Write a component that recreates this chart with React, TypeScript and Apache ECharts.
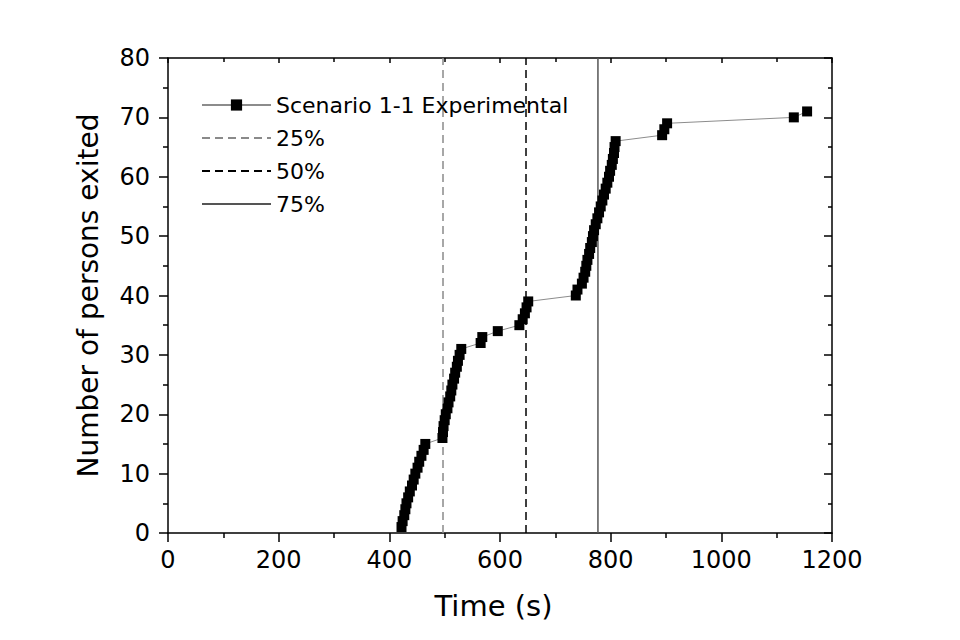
import React, { useEffect, useRef } from "react";
import * as echarts from "echarts";

const exitTimes = [
  422, 424, 427, 429, 431, 434, 437, 441, 444, 447, 451, 454, 458, 462, 465,
  496, 497, 498, 500, 502, 505, 507, 510, 512, 514, 517, 519, 522, 524, 527, 530,
  565, 568, 596, 635, 641, 645, 648, 651,
  737, 740, 748, 751, 754, 756, 758, 761, 763, 766, 768, 770, 773, 776, 779, 782,
  785, 788, 791, 794, 797, 799, 802, 804, 806, 807, 809,
  893, 897, 902, 1131, 1155,
];
const personsExited = [
  1, 2, 3, 4, 5, 6, 7, 8, 9, 10, 11, 12, 13, 14, 15,
  16, 17, 18, 19, 20, 21, 22, 23, 24, 25, 26, 27, 28, 29, 30, 31,
  32, 33, 34, 35, 36, 37, 38, 39,
  40, 41, 42, 43, 44, 45, 46, 47, 48, 49, 50, 51, 52, 53, 54, 55,
  56, 57, 58, 59, 60, 61, 62, 63, 64, 65, 66,
  67, 68, 69, 70, 71,
];
const percentileNames = ["25%", "50%", "75%"];
const percentileTimes = [497, 647, 777];
const seriesName = "Scenario 1-1 Experimental";

const FONT = "'DejaVu Sans', 'Open Sans', sans-serif";

export default function App() {
  const ref = useRef<HTMLDivElement>(null);
  useEffect(() => {
    if (!ref.current) return;
    const chart = echarts.init(ref.current, undefined, { renderer: "svg" });
    const data = exitTimes.map((t, i) => [t, personsExited[i]]);
    const lineStyles = [
      { color: "#8a8a8a", width: 1.5, type: [8, 5] },
      { color: "#000000", width: 1.5, type: [8, 5] },
      { color: "#555555", width: 1.5, type: "solid" },
    ];
    const vSeries = percentileNames.map((name, i) => ({
      name,
      type: "line",
      data: [
        [percentileTimes[i], 0],
        [percentileTimes[i], 80],
      ],
      symbol: "none",
      lineStyle: lineStyles[i],
      itemStyle: { color: lineStyles[i].color },
      z: 1,
    }));
    const axisCommon = {
      axisLine: { show: true, onZero: false, lineStyle: { color: "#000", width: 1.5 } },
      splitLine: { show: false },
    };
    const plain = (v: number) => String(v);
    chart.setOption({
      animation: false,
      textStyle: { fontFamily: FONT },
      grid: { left: 168, right: 128, top: 58, bottom: 107 },
      legend: {
        left: 201,
        top: 94,
        padding: 0,
        orient: "vertical",
        itemWidth: 69,
        itemHeight: 14,
        itemGap: 11,
        textStyle: { fontFamily: FONT, fontSize: 22, color: "#000" },
        data: [
          seriesName,
          ...percentileNames.map((n) => ({
            name: n,
            itemStyle: { color: "rgba(0,0,0,0)", opacity: 0, borderWidth: 0 },
          })),
        ],
      },
      xAxis: [
        {
          type: "value",
          position: "bottom",
          min: 0,
          max: 1200,
          interval: 200,
          name: "Time (s)",
          nameLocation: "middle",
          nameGap: 58,
          nameTextStyle: { fontFamily: FONT, fontSize: 29, color: "#000", padding: [0, 13, 0, 0] },
          axisLabel: { fontFamily: FONT, fontSize: 24, color: "#000", margin: 15, formatter: plain },
          axisTick: { show: true, inside: false, length: 9, lineStyle: { color: "#000", width: 1.5 } },
          minorTick: { show: true, splitNumber: 2, length: 5, lineStyle: { color: "#000", width: 1.5 } },
          ...axisCommon,
        },
        {
          type: "value",
          position: "top",
          min: 0,
          max: 1200,
          interval: 200,
          axisLabel: { show: false },
          axisTick: { show: true, inside: true, length: 5, lineStyle: { color: "#000", width: 1.5 } },
          minorTick: { show: true, splitNumber: 2, length: 4, lineStyle: { color: "#000", width: 1.5 } },
          ...axisCommon,
        },
      ],
      yAxis: [
        {
          type: "value",
          position: "left",
          min: 0,
          max: 80,
          interval: 10,
          name: "Number of persons exited",
          nameLocation: "middle",
          nameGap: 66,
          nameTextStyle: { fontFamily: FONT, fontSize: 28, color: "#000" },
          axisLabel: { fontFamily: FONT, fontSize: 24, color: "#000", margin: 18, formatter: plain },
          axisTick: { show: true, inside: false, length: 9, lineStyle: { color: "#000", width: 1.5 } },
          minorTick: { show: true, splitNumber: 2, length: 5, lineStyle: { color: "#000", width: 1.5 } },
          ...axisCommon,
        },
        {
          type: "value",
          position: "right",
          min: 0,
          max: 80,
          interval: 10,
          axisLabel: { show: false },
          axisTick: { show: true, inside: true, length: 8, lineStyle: { color: "#000", width: 1.5 } },
          minorTick: { show: true, splitNumber: 2, length: 4, lineStyle: { color: "#000", width: 1.5 } },
          ...axisCommon,
        },
      ],
      series: [
        ...vSeries,
        {
          name: seriesName,
          type: "line",
          data,
          symbol: "rect",
          symbolSize: 10,
          showSymbol: true,
          lineStyle: { color: "#8c8c8c", width: 1 },
          itemStyle: { color: "#000" },
          z: 3,
        },
      ],
    });
    return () => chart.dispose();
  }, []);
  return (
    <div
      ref={ref}
      style={{ position: "absolute", left: 0, top: 0, width: 960, height: 640, background: "#fff" }}
    />
  );
}
